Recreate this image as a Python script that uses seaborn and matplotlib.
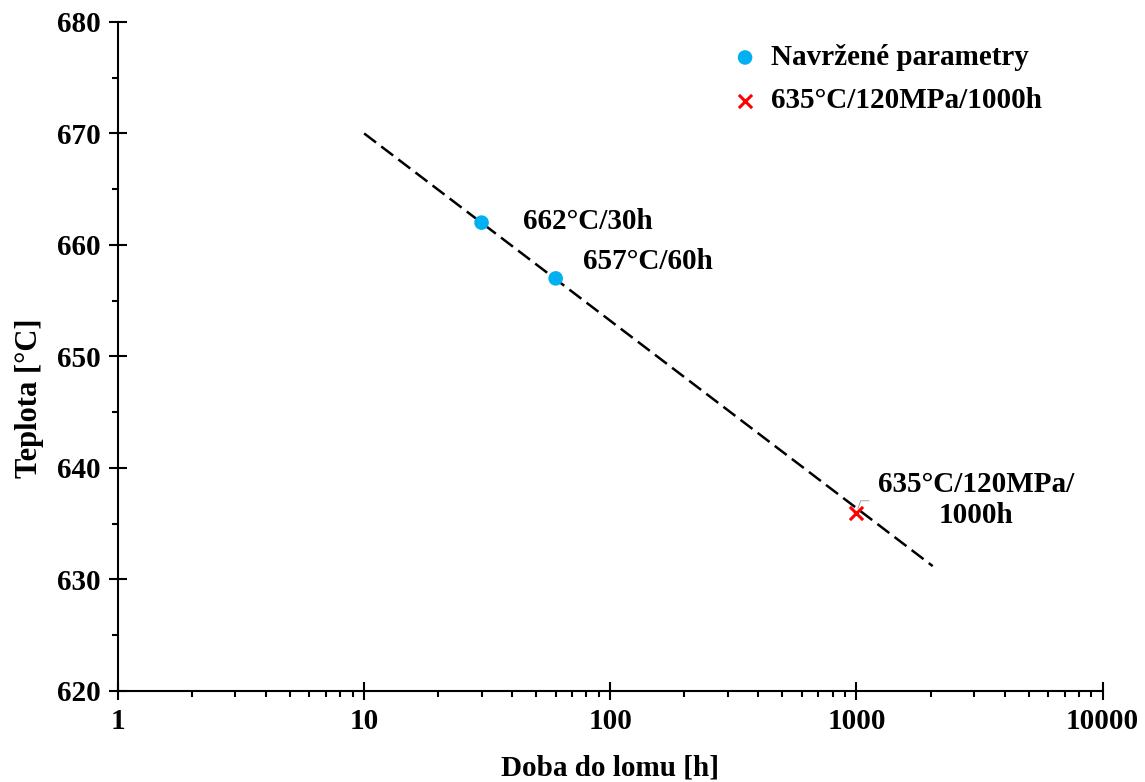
import matplotlib
matplotlib.use("Agg")
import matplotlib.pyplot as plt
from matplotlib.ticker import FixedLocator, LogLocator, MultipleLocator, NullFormatter
import seaborn as sns

# navržené parametry (doba do lomu [h], teplota [°C])
navrh_t = [30, 60]
navrh_T = [662, 657]
navrh_labels = ["662°C/30h", "657°C/60h"]

# referenční zkouška
ref_t = [1000]
ref_T = [636]
ref_label = "635°C/120MPa/\n1000h"

# trendová čára
trend_t = [10, 2040]
trend_T = [670, 631.2]

sns.set_style("ticks")
plt.rcParams["font.family"] = ["Liberation Serif", "DejaVu Serif"]
plt.rcParams["font.weight"] = "bold"
plt.rcParams["text.color"] = "black"
plt.rcParams["axes.labelcolor"] = "black"
plt.rcParams["xtick.color"] = "black"
plt.rcParams["ytick.color"] = "black"
plt.rcParams["axes.edgecolor"] = "black"

BLUE = "#00B0F0"
RED = "#FF0000"
FS = 21

fig, ax = plt.subplots(figsize=(11.45, 7.82), dpi=100)
fig.subplots_adjust(left=0.103, right=0.963, top=0.972, bottom=0.1164)

sns.lineplot(x=trend_t, y=trend_T, ax=ax, color="black", linewidth=1.8,
             linestyle=(0, (6, 2.6)), legend=False)
sns.scatterplot(x=navrh_t, y=navrh_T, ax=ax, color=BLUE, s=110, marker="o",
                edgecolor="none", label="Navržené parametry", zorder=3)
sns.scatterplot(x=ref_t, y=ref_T, ax=ax, color=RED, s=90, marker="x",
                linewidth=2.2, label="635°C/120MPa/1000h", zorder=3)

ax.set_xscale("log")
ax.set_xlim(1, 10000)
ax.set_ylim(620, 680)

ax.xaxis.set_major_locator(FixedLocator([1, 10, 100, 1000, 10000]))
ax.set_xticklabels(["1", "10", "100", "1000", "10000"])
ax.xaxis.set_minor_locator(LogLocator(base=10, subs=range(2, 10)))
ax.xaxis.set_minor_formatter(NullFormatter())
ax.yaxis.set_major_locator(MultipleLocator(10))
ax.yaxis.set_minor_locator(MultipleLocator(5))

ax.tick_params(which="major", direction="inout", length=13, width=1.5,
               labelsize=FS, pad=6, colors="black")
ax.tick_params(which="minor", direction="out", length=4.5, width=1.5, colors="black")
for lab in ax.get_xticklabels() + ax.get_yticklabels():
    lab.set_fontweight("bold")

for side in ["top", "right"]:
    ax.spines[side].set_visible(False)
for side in ["left", "bottom"]:
    ax.spines[side].set_linewidth(1.5)

ax.set_xlabel("Doba do lomu [h]", fontsize=FS, fontweight="bold")
ax.xaxis.set_label_coords(0.5, -0.095)
ax.set_ylabel("Teplota [°C]", fontsize=22, fontweight="bold")
ax.yaxis.set_label_coords(-0.075, 0.438)

# posuny popisků bodů (v bodech)
label_offsets = [(30, 1), (20, 12)]
for t, T, lab, off in zip(navrh_t, navrh_T, navrh_labels, label_offsets):
    ax.annotate(lab, (t, T), xytext=off, textcoords="offset points",
                fontsize=FS, fontweight="bold", va="center", ha="left")

ax.annotate(ref_label, (ref_t[0], ref_T[0]), xytext=(86, 9),
            textcoords="offset points", fontsize=FS, fontweight="bold",
            ha="center", va="center", linespacing=1.15)
ax.annotate("", (ref_t[0], ref_T[0]), xytext=(9, 8.5),
            textcoords="offset points",
            arrowprops=dict(arrowstyle="-", color="#a0a0a0", lw=0.7,
                            connectionstyle="angle,angleA=0,angleB=70,rad=0",
                            shrinkA=0, shrinkB=3))

ax.legend(loc="upper left", bbox_to_anchor=(0.588, 1.006), frameon=False,
          prop={"size": FS, "weight": "bold"}, handletextpad=0.15,
          labelspacing=0.55, markerscale=1.0, handlelength=1.5)

fig.savefig("out.png", dpi=100)
